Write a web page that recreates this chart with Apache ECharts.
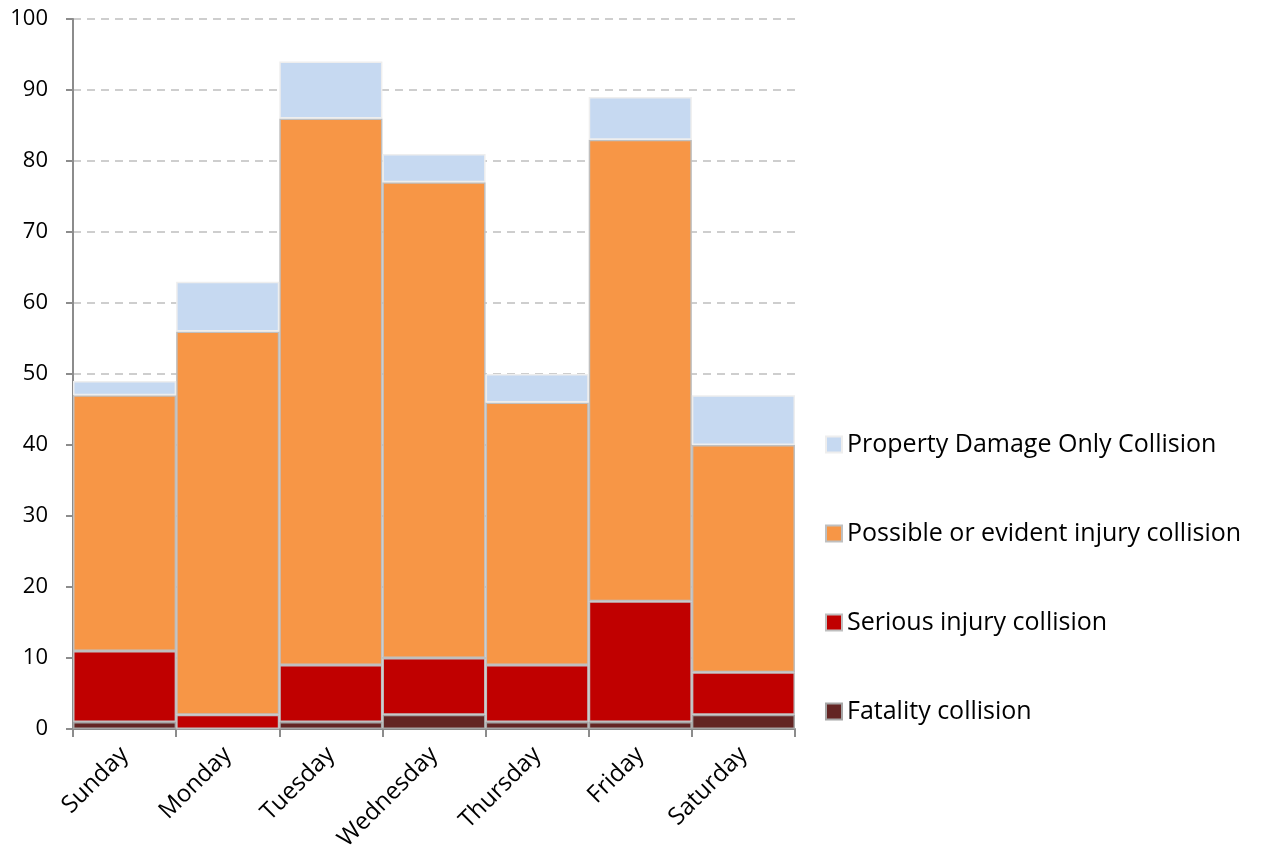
<!DOCTYPE html>
<html><head><meta charset="utf-8">
<script src="https://cdn.jsdelivr.net/npm/echarts@6/dist/echarts.min.js"></script>
<style>html,body{margin:0;padding:0;background:#fff}#c{width:1262px;height:865px}</style>
</head><body><div id="c"></div>
<script>
const days = ["Sunday","Monday","Tuesday","Wednesday","Thursday","Friday","Saturday"];
const fatality = [1,0,1,2,1,1,2];
const serious = [10,2,8,8,8,17,6];
const possible = [36,54,77,67,37,65,32];
const pdo = [2,7,8,4,4,6,7];
const names = ["Fatality collision","Serious injury collision","Possible or evident injury collision","Property Damage Only Collision"];
const colors = ["#632523","#c00000","#f79646","#c6d9f1"];
const borders = ["#a6a6a6","#bfbfbf","#bfbfbf","#eeeeee"];
const values = [fatality, serious, possible, pdo];
const font = "'Open Sans', sans-serif";
const chart = echarts.init(document.getElementById('c'));
chart.setOption({
  animation:false,
  grid:{left:73,right:467,top:19,bottom:136},
  legend:{
    orient:'vertical', left:820, top:427,
    data:[names[3],names[2],names[1],names[0]],
    itemWidth:16, itemHeight:16, itemGap:64, icon:'rect',
    textStyle:{fontFamily:font,fontSize:25,color:'#000'}
  },
  xAxis:{
    type:'category', data:days, boundaryGap:true,
    axisLine:{lineStyle:{color:'#8c8c8c',width:2}},
    axisTick:{show:true,length:8,inside:false,lineStyle:{color:'#8c8c8c',width:2}},
    axisLabel:{rotate:45,fontFamily:font,fontSize:24,color:'#000',margin:22}
  },
  yAxis:{
    type:'value', min:0, max:100, interval:10,
    axisLine:{show:true,lineStyle:{color:'#8c8c8c',width:2}},
    axisTick:{show:true,length:7,lineStyle:{color:'#8c8c8c',width:2}},
    axisLabel:{fontFamily:font,fontSize:22,color:'#000',margin:25},
    splitLine:{show:true,lineStyle:{color:'#bfbfbf',type:[8,6],width:1.5}}
  },
  series: values.map((v,i)=>({
    name:names[i], type:'bar', stack:'all', data:v,
    barCategoryGap:'0%',
    itemStyle:{color:colors[i],borderColor:borders[i],borderWidth:1.5}
  }))
});
</script></body></html>
